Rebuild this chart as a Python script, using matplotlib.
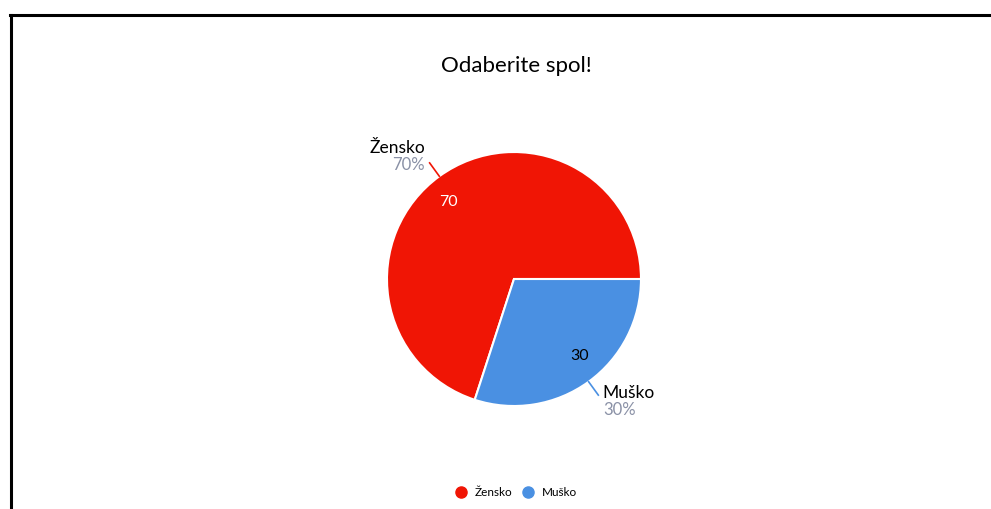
import numpy as np
import matplotlib.pyplot as plt
from matplotlib.lines import Line2D

plt.rcParams['font.family'] = ['Lato', 'DejaVu Sans']

title = "Odaberite spol!"
labels = ["Žensko", "Muško"]
values = [70, 30]
colors = ["#f01505", "#4a90e2"]
pct_color = "#8a91a6"

fig = plt.figure(figsize=(9.91, 5.09), dpi=100)
ax = fig.add_axes([0.3264, 0.0776, 0.3845, 0.7485])

wedges, texts, autotexts = ax.pie(values, colors=colors, startangle=0, counterclock=True,
                                  autopct=lambda p: "%d" % round(p), pctdistance=0.8,
                                  wedgeprops={"edgecolor": "white", "linewidth": 1.5},
                                  textprops={"fontsize": 11.5})
autotexts[0].set_color("white")
autotexts[1].set_color("black")
# value labels sit a bit counter-clockwise of the slice middle
for w, t in zip(wedges, autotexts):
    a = np.deg2rad((w.theta1 + w.theta2) / 2 + 4.5)
    t.set_position((0.8 * np.cos(a), 0.8 * np.sin(a)))
ax.set_xlim(-1.5, 1.5)
ax.set_ylim(-1.5, 1.5)
ax.set_aspect("equal")
ax.axis("off")

total = sum(values)
for w, lab, v, c in zip(wedges, labels, values, colors):
    ang = np.deg2rad((w.theta1 + w.theta2) / 2)
    ca, sa = np.cos(ang), np.sin(ang)
    ax.plot([1.0 * ca, 1.13 * ca], [1.0 * sa, 1.13 * sa], color=c, lw=1.2)
    ha = "left" if ca > 0 else "right"
    x, y = 1.19 * ca, 1.19 * sa
    ax.annotate(lab, (x, y), xytext=(0, 6.3), textcoords="offset points",
                ha=ha, va="center", fontsize=12.5, color="black")
    ax.annotate("%d%%" % round(100 * v / total), (x, y), xytext=(0, -6.3),
                textcoords="offset points", ha=ha, va="center", fontsize=12, color=pct_color)

fig.text(516 / 991, 1 - 66 / 509, title, ha="center", va="center", fontsize=16)

handles = [Line2D([], [], marker="o", ls="", markersize=8, markerfacecolor=c, markeredgecolor=c)
           for c in colors]
fig.legend(handles, labels, loc="center", bbox_to_anchor=(513 / 991, 16 / 509), ncol=2,
           frameon=False, fontsize=8.5, handletextpad=0.2, columnspacing=0.25)

# frame lines
fig.add_artist(Line2D([10 / 991, 1], [1 - 15 / 509, 1 - 15 / 509], color="black", lw=2.2))
fig.add_artist(Line2D([11 / 991, 11 / 991], [0, 1 - 15 / 509], color="black", lw=2.2))

fig.savefig("out.png", dpi=100)
